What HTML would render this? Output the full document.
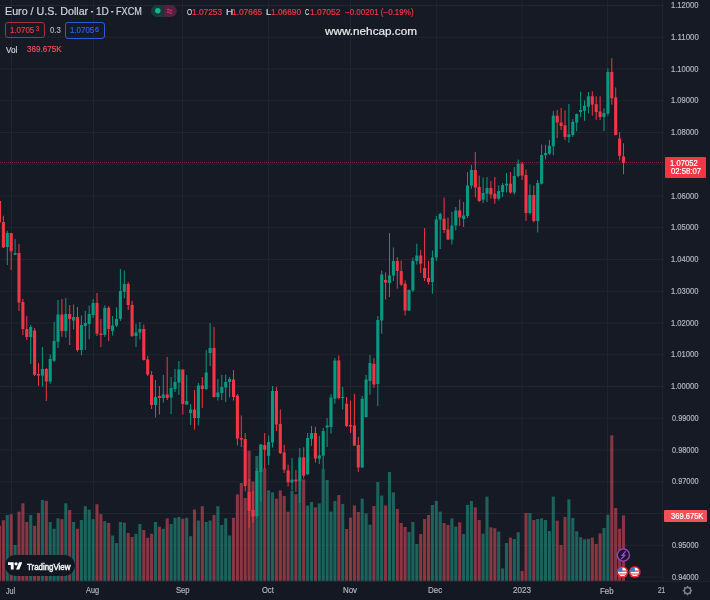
<!DOCTYPE html>
<html><head><meta charset="utf-8"><style>
*{margin:0;padding:0;box-sizing:border-box}
html,body{width:710px;height:600px;overflow:hidden;background:#161A25}
body{position:relative;font-family:"Liberation Sans",sans-serif;color:#d1d4dc}
svg.chart{position:absolute;left:0;top:0}
.abs{position:absolute;white-space:nowrap}
.t{position:absolute;white-space:pre;line-height:20px;transform-origin:0 0;-webkit-text-stroke:0.2px currentColor}
</style></head><body>
<svg class="chart" width="710" height="600" viewBox="0 0 710 600">
<rect x="11.00" y="0" width="1" height="581" fill="#222530"/>
<rect x="93.00" y="0" width="1" height="581" fill="#222530"/>
<rect x="182.10" y="0" width="1" height="581" fill="#222530"/>
<rect x="267.90" y="0" width="1" height="581" fill="#222530"/>
<rect x="350.00" y="0" width="1" height="581" fill="#222530"/>
<rect x="436.20" y="0" width="1" height="581" fill="#222530"/>
<rect x="521.40" y="0" width="1" height="581" fill="#222530"/>
<rect x="607.00" y="0" width="1" height="581" fill="#222530"/>
<rect x="662.20" y="0" width="1" height="581" fill="#222530"/>
<rect x="0" y="5.00" width="664" height="1" fill="#222530"/>
<rect x="0" y="36.75" width="664" height="1" fill="#222530"/>
<rect x="0" y="68.50" width="664" height="1" fill="#222530"/>
<rect x="0" y="100.25" width="664" height="1" fill="#222530"/>
<rect x="0" y="132.00" width="664" height="1" fill="#222530"/>
<rect x="0" y="163.75" width="664" height="1" fill="#222530"/>
<rect x="0" y="195.50" width="664" height="1" fill="#222530"/>
<rect x="0" y="227.25" width="664" height="1" fill="#222530"/>
<rect x="0" y="259.00" width="664" height="1" fill="#222530"/>
<rect x="0" y="290.75" width="664" height="1" fill="#222530"/>
<rect x="0" y="322.50" width="664" height="1" fill="#222530"/>
<rect x="0" y="354.25" width="664" height="1" fill="#222530"/>
<rect x="0" y="386.00" width="664" height="1" fill="#222530"/>
<rect x="0" y="417.75" width="664" height="1" fill="#222530"/>
<rect x="0" y="449.50" width="664" height="1" fill="#222530"/>
<rect x="0" y="481.25" width="664" height="1" fill="#222530"/>
<rect x="0" y="513.00" width="664" height="1" fill="#222530"/>
<rect x="0" y="544.75" width="664" height="1" fill="#222530"/>
<rect x="0" y="576.50" width="664" height="1" fill="#222530"/>
<rect x="-2.05" y="525.80" width="3.1" height="55.20" fill="rgba(247,82,95,0.5)"/>
<rect x="1.85" y="520.30" width="3.1" height="60.70" fill="rgba(247,82,95,0.5)"/>
<rect x="5.75" y="515.00" width="3.1" height="66.00" fill="rgba(34,171,148,0.5)"/>
<rect x="9.65" y="514.20" width="3.1" height="66.80" fill="rgba(247,82,95,0.5)"/>
<rect x="13.55" y="545.00" width="3.1" height="36.00" fill="rgba(34,171,148,0.5)"/>
<rect x="17.45" y="511.70" width="3.1" height="69.30" fill="rgba(247,82,95,0.5)"/>
<rect x="21.35" y="503.30" width="3.1" height="77.70" fill="rgba(247,82,95,0.5)"/>
<rect x="25.25" y="522.00" width="3.1" height="59.00" fill="rgba(247,82,95,0.5)"/>
<rect x="29.15" y="515.00" width="3.1" height="66.00" fill="rgba(34,171,148,0.5)"/>
<rect x="33.05" y="525.80" width="3.1" height="55.20" fill="rgba(247,82,95,0.5)"/>
<rect x="36.95" y="513.00" width="3.1" height="68.00" fill="rgba(247,82,95,0.5)"/>
<rect x="40.85" y="500.00" width="3.1" height="81.00" fill="rgba(34,171,148,0.5)"/>
<rect x="44.75" y="500.80" width="3.1" height="80.20" fill="rgba(247,82,95,0.5)"/>
<rect x="48.65" y="522.00" width="3.1" height="59.00" fill="rgba(34,171,148,0.5)"/>
<rect x="52.55" y="528.80" width="3.1" height="52.20" fill="rgba(34,171,148,0.5)"/>
<rect x="56.45" y="518.30" width="3.1" height="62.70" fill="rgba(34,171,148,0.5)"/>
<rect x="60.35" y="519.20" width="3.1" height="61.80" fill="rgba(247,82,95,0.5)"/>
<rect x="64.25" y="503.30" width="3.1" height="77.70" fill="rgba(34,171,148,0.5)"/>
<rect x="68.15" y="510.00" width="3.1" height="71.00" fill="rgba(247,82,95,0.5)"/>
<rect x="72.05" y="522.00" width="3.1" height="59.00" fill="rgba(34,171,148,0.5)"/>
<rect x="75.95" y="528.80" width="3.1" height="52.20" fill="rgba(247,82,95,0.5)"/>
<rect x="79.85" y="520.00" width="3.1" height="61.00" fill="rgba(34,171,148,0.5)"/>
<rect x="83.75" y="506.20" width="3.1" height="74.80" fill="rgba(34,171,148,0.5)"/>
<rect x="87.65" y="509.60" width="3.1" height="71.40" fill="rgba(34,171,148,0.5)"/>
<rect x="91.55" y="519.20" width="3.1" height="61.80" fill="rgba(34,171,148,0.5)"/>
<rect x="95.45" y="504.20" width="3.1" height="76.80" fill="rgba(247,82,95,0.5)"/>
<rect x="99.35" y="514.20" width="3.1" height="66.80" fill="rgba(247,82,95,0.5)"/>
<rect x="103.25" y="521.20" width="3.1" height="59.80" fill="rgba(34,171,148,0.5)"/>
<rect x="107.15" y="523.00" width="3.1" height="58.00" fill="rgba(247,82,95,0.5)"/>
<rect x="111.05" y="535.50" width="3.1" height="45.50" fill="rgba(34,171,148,0.5)"/>
<rect x="114.95" y="543.00" width="3.1" height="38.00" fill="rgba(34,171,148,0.5)"/>
<rect x="118.85" y="522.00" width="3.1" height="59.00" fill="rgba(34,171,148,0.5)"/>
<rect x="122.75" y="522.70" width="3.1" height="58.30" fill="rgba(34,171,148,0.5)"/>
<rect x="126.65" y="533.00" width="3.1" height="48.00" fill="rgba(247,82,95,0.5)"/>
<rect x="130.55" y="537.00" width="3.1" height="44.00" fill="rgba(247,82,95,0.5)"/>
<rect x="134.45" y="533.70" width="3.1" height="47.30" fill="rgba(34,171,148,0.5)"/>
<rect x="138.35" y="524.00" width="3.1" height="57.00" fill="rgba(34,171,148,0.5)"/>
<rect x="142.25" y="530.00" width="3.1" height="51.00" fill="rgba(247,82,95,0.5)"/>
<rect x="146.15" y="537.80" width="3.1" height="43.20" fill="rgba(247,82,95,0.5)"/>
<rect x="150.05" y="533.70" width="3.1" height="47.30" fill="rgba(247,82,95,0.5)"/>
<rect x="153.95" y="522.00" width="3.1" height="59.00" fill="rgba(34,171,148,0.5)"/>
<rect x="157.85" y="526.70" width="3.1" height="54.30" fill="rgba(247,82,95,0.5)"/>
<rect x="161.75" y="528.80" width="3.1" height="52.20" fill="rgba(34,171,148,0.5)"/>
<rect x="165.65" y="518.30" width="3.1" height="62.70" fill="rgba(247,82,95,0.5)"/>
<rect x="169.55" y="524.00" width="3.1" height="57.00" fill="rgba(34,171,148,0.5)"/>
<rect x="173.45" y="517.80" width="3.1" height="63.20" fill="rgba(34,171,148,0.5)"/>
<rect x="177.35" y="517.00" width="3.1" height="64.00" fill="rgba(34,171,148,0.5)"/>
<rect x="181.25" y="518.80" width="3.1" height="62.20" fill="rgba(247,82,95,0.5)"/>
<rect x="185.15" y="517.80" width="3.1" height="63.20" fill="rgba(34,171,148,0.5)"/>
<rect x="189.05" y="536.20" width="3.1" height="44.80" fill="rgba(34,171,148,0.5)"/>
<rect x="192.95" y="509.50" width="3.1" height="71.50" fill="rgba(247,82,95,0.5)"/>
<rect x="196.85" y="520.50" width="3.1" height="60.50" fill="rgba(34,171,148,0.5)"/>
<rect x="200.75" y="506.20" width="3.1" height="74.80" fill="rgba(247,82,95,0.5)"/>
<rect x="204.65" y="522.00" width="3.1" height="59.00" fill="rgba(34,171,148,0.5)"/>
<rect x="208.55" y="520.50" width="3.1" height="60.50" fill="rgba(34,171,148,0.5)"/>
<rect x="212.45" y="515.00" width="3.1" height="66.00" fill="rgba(247,82,95,0.5)"/>
<rect x="216.35" y="506.20" width="3.1" height="74.80" fill="rgba(34,171,148,0.5)"/>
<rect x="220.25" y="525.00" width="3.1" height="56.00" fill="rgba(34,171,148,0.5)"/>
<rect x="224.15" y="518.30" width="3.1" height="62.70" fill="rgba(34,171,148,0.5)"/>
<rect x="228.05" y="535.50" width="3.1" height="45.50" fill="rgba(34,171,148,0.5)"/>
<rect x="231.95" y="517.80" width="3.1" height="63.20" fill="rgba(247,82,95,0.5)"/>
<rect x="235.85" y="494.40" width="3.1" height="86.60" fill="rgba(247,82,95,0.5)"/>
<rect x="239.75" y="483.00" width="3.1" height="98.00" fill="rgba(247,82,95,0.5)"/>
<rect x="243.65" y="498.00" width="3.1" height="83.00" fill="rgba(247,82,95,0.5)"/>
<rect x="247.55" y="450.70" width="3.1" height="130.30" fill="rgba(247,82,95,0.5)"/>
<rect x="251.45" y="481.60" width="3.1" height="99.40" fill="rgba(247,82,95,0.5)"/>
<rect x="255.35" y="456.00" width="3.1" height="125.00" fill="rgba(34,171,148,0.5)"/>
<rect x="259.25" y="445.00" width="3.1" height="136.00" fill="rgba(34,171,148,0.5)"/>
<rect x="263.15" y="468.50" width="3.1" height="112.50" fill="rgba(247,82,95,0.5)"/>
<rect x="267.05" y="490.40" width="3.1" height="90.60" fill="rgba(34,171,148,0.5)"/>
<rect x="270.95" y="492.30" width="3.1" height="88.70" fill="rgba(34,171,148,0.5)"/>
<rect x="274.85" y="498.70" width="3.1" height="82.30" fill="rgba(247,82,95,0.5)"/>
<rect x="278.75" y="490.40" width="3.1" height="90.60" fill="rgba(247,82,95,0.5)"/>
<rect x="282.65" y="496.00" width="3.1" height="85.00" fill="rgba(247,82,95,0.5)"/>
<rect x="286.55" y="511.70" width="3.1" height="69.30" fill="rgba(247,82,95,0.5)"/>
<rect x="290.45" y="490.70" width="3.1" height="90.30" fill="rgba(34,171,148,0.5)"/>
<rect x="294.35" y="494.20" width="3.1" height="86.80" fill="rgba(247,82,95,0.5)"/>
<rect x="298.25" y="481.00" width="3.1" height="100.00" fill="rgba(34,171,148,0.5)"/>
<rect x="302.15" y="479.40" width="3.1" height="101.60" fill="rgba(247,82,95,0.5)"/>
<rect x="306.05" y="505.60" width="3.1" height="75.40" fill="rgba(34,171,148,0.5)"/>
<rect x="309.95" y="502.00" width="3.1" height="79.00" fill="rgba(34,171,148,0.5)"/>
<rect x="313.85" y="507.40" width="3.1" height="73.60" fill="rgba(247,82,95,0.5)"/>
<rect x="317.75" y="503.40" width="3.1" height="77.60" fill="rgba(34,171,148,0.5)"/>
<rect x="321.65" y="469.00" width="3.1" height="112.00" fill="rgba(34,171,148,0.5)"/>
<rect x="325.55" y="480.00" width="3.1" height="101.00" fill="rgba(34,171,148,0.5)"/>
<rect x="329.45" y="511.60" width="3.1" height="69.40" fill="rgba(34,171,148,0.5)"/>
<rect x="333.35" y="501.00" width="3.1" height="80.00" fill="rgba(34,171,148,0.5)"/>
<rect x="337.25" y="495.00" width="3.1" height="86.00" fill="rgba(247,82,95,0.5)"/>
<rect x="341.15" y="504.00" width="3.1" height="77.00" fill="rgba(34,171,148,0.5)"/>
<rect x="345.05" y="529.00" width="3.1" height="52.00" fill="rgba(247,82,95,0.5)"/>
<rect x="348.95" y="517.60" width="3.1" height="63.40" fill="rgba(247,82,95,0.5)"/>
<rect x="352.85" y="505.40" width="3.1" height="75.60" fill="rgba(247,82,95,0.5)"/>
<rect x="356.75" y="512.00" width="3.1" height="69.00" fill="rgba(247,82,95,0.5)"/>
<rect x="360.65" y="498.60" width="3.1" height="82.40" fill="rgba(34,171,148,0.5)"/>
<rect x="364.55" y="513.40" width="3.1" height="67.60" fill="rgba(34,171,148,0.5)"/>
<rect x="368.45" y="524.60" width="3.1" height="56.40" fill="rgba(34,171,148,0.5)"/>
<rect x="372.35" y="506.00" width="3.1" height="75.00" fill="rgba(247,82,95,0.5)"/>
<rect x="376.25" y="482.00" width="3.1" height="99.00" fill="rgba(34,171,148,0.5)"/>
<rect x="380.15" y="495.60" width="3.1" height="85.40" fill="rgba(34,171,148,0.5)"/>
<rect x="384.05" y="505.40" width="3.1" height="75.60" fill="rgba(247,82,95,0.5)"/>
<rect x="387.95" y="472.00" width="3.1" height="109.00" fill="rgba(34,171,148,0.5)"/>
<rect x="391.85" y="492.40" width="3.1" height="88.60" fill="rgba(34,171,148,0.5)"/>
<rect x="395.75" y="509.00" width="3.1" height="72.00" fill="rgba(247,82,95,0.5)"/>
<rect x="399.65" y="523.00" width="3.1" height="58.00" fill="rgba(247,82,95,0.5)"/>
<rect x="403.55" y="527.00" width="3.1" height="54.00" fill="rgba(247,82,95,0.5)"/>
<rect x="407.45" y="532.00" width="3.1" height="49.00" fill="rgba(34,171,148,0.5)"/>
<rect x="411.35" y="522.00" width="3.1" height="59.00" fill="rgba(34,171,148,0.5)"/>
<rect x="415.25" y="544.00" width="3.1" height="37.00" fill="rgba(34,171,148,0.5)"/>
<rect x="419.15" y="534.00" width="3.1" height="47.00" fill="rgba(247,82,95,0.5)"/>
<rect x="423.05" y="519.00" width="3.1" height="62.00" fill="rgba(247,82,95,0.5)"/>
<rect x="426.95" y="515.00" width="3.1" height="66.00" fill="rgba(247,82,95,0.5)"/>
<rect x="430.85" y="505.00" width="3.1" height="76.00" fill="rgba(34,171,148,0.5)"/>
<rect x="434.75" y="501.00" width="3.1" height="80.00" fill="rgba(34,171,148,0.5)"/>
<rect x="438.65" y="511.60" width="3.1" height="69.40" fill="rgba(34,171,148,0.5)"/>
<rect x="442.55" y="523.00" width="3.1" height="58.00" fill="rgba(247,82,95,0.5)"/>
<rect x="446.45" y="525.00" width="3.1" height="56.00" fill="rgba(247,82,95,0.5)"/>
<rect x="450.35" y="518.40" width="3.1" height="62.60" fill="rgba(34,171,148,0.5)"/>
<rect x="454.25" y="526.60" width="3.1" height="54.40" fill="rgba(34,171,148,0.5)"/>
<rect x="458.15" y="522.40" width="3.1" height="58.60" fill="rgba(247,82,95,0.5)"/>
<rect x="462.05" y="534.00" width="3.1" height="47.00" fill="rgba(34,171,148,0.5)"/>
<rect x="465.95" y="505.00" width="3.1" height="76.00" fill="rgba(34,171,148,0.5)"/>
<rect x="469.85" y="501.00" width="3.1" height="80.00" fill="rgba(34,171,148,0.5)"/>
<rect x="473.75" y="507.40" width="3.1" height="73.60" fill="rgba(247,82,95,0.5)"/>
<rect x="477.65" y="520.00" width="3.1" height="61.00" fill="rgba(247,82,95,0.5)"/>
<rect x="481.55" y="533.60" width="3.1" height="47.40" fill="rgba(34,171,148,0.5)"/>
<rect x="485.45" y="496.60" width="3.1" height="84.40" fill="rgba(34,171,148,0.5)"/>
<rect x="489.35" y="527.40" width="3.1" height="53.60" fill="rgba(247,82,95,0.5)"/>
<rect x="493.25" y="528.20" width="3.1" height="52.80" fill="rgba(247,82,95,0.5)"/>
<rect x="497.15" y="531.60" width="3.1" height="49.40" fill="rgba(34,171,148,0.5)"/>
<rect x="501.05" y="568.40" width="3.1" height="12.60" fill="rgba(34,171,148,0.5)"/>
<rect x="504.95" y="543.00" width="3.1" height="38.00" fill="rgba(34,171,148,0.5)"/>
<rect x="508.85" y="537.60" width="3.1" height="43.40" fill="rgba(247,82,95,0.5)"/>
<rect x="512.75" y="539.00" width="3.1" height="42.00" fill="rgba(34,171,148,0.5)"/>
<rect x="516.65" y="532.20" width="3.1" height="48.80" fill="rgba(34,171,148,0.5)"/>
<rect x="520.55" y="571.00" width="3.1" height="10.00" fill="rgba(247,82,95,0.5)"/>
<rect x="524.45" y="513.00" width="3.1" height="68.00" fill="rgba(247,82,95,0.5)"/>
<rect x="528.35" y="513.00" width="3.1" height="68.00" fill="rgba(34,171,148,0.5)"/>
<rect x="532.25" y="520.00" width="3.1" height="61.00" fill="rgba(247,82,95,0.5)"/>
<rect x="536.15" y="519.00" width="3.1" height="62.00" fill="rgba(34,171,148,0.5)"/>
<rect x="540.05" y="518.40" width="3.1" height="62.60" fill="rgba(34,171,148,0.5)"/>
<rect x="543.95" y="520.00" width="3.1" height="61.00" fill="rgba(34,171,148,0.5)"/>
<rect x="547.85" y="531.00" width="3.1" height="50.00" fill="rgba(34,171,148,0.5)"/>
<rect x="551.75" y="496.60" width="3.1" height="84.40" fill="rgba(34,171,148,0.5)"/>
<rect x="555.65" y="520.70" width="3.1" height="60.30" fill="rgba(247,82,95,0.5)"/>
<rect x="559.55" y="545.00" width="3.1" height="36.00" fill="rgba(247,82,95,0.5)"/>
<rect x="563.45" y="517.00" width="3.1" height="64.00" fill="rgba(247,82,95,0.5)"/>
<rect x="567.35" y="499.30" width="3.1" height="81.70" fill="rgba(34,171,148,0.5)"/>
<rect x="571.25" y="518.00" width="3.1" height="63.00" fill="rgba(34,171,148,0.5)"/>
<rect x="575.15" y="531.30" width="3.1" height="49.70" fill="rgba(34,171,148,0.5)"/>
<rect x="579.05" y="537.20" width="3.1" height="43.80" fill="rgba(34,171,148,0.5)"/>
<rect x="582.95" y="539.30" width="3.1" height="41.70" fill="rgba(34,171,148,0.5)"/>
<rect x="586.85" y="538.80" width="3.1" height="42.20" fill="rgba(34,171,148,0.5)"/>
<rect x="590.75" y="537.70" width="3.1" height="43.30" fill="rgba(247,82,95,0.5)"/>
<rect x="594.65" y="544.00" width="3.1" height="37.00" fill="rgba(247,82,95,0.5)"/>
<rect x="598.55" y="533.50" width="3.1" height="47.50" fill="rgba(247,82,95,0.5)"/>
<rect x="602.45" y="528.00" width="3.1" height="53.00" fill="rgba(34,171,148,0.5)"/>
<rect x="606.35" y="514.80" width="3.1" height="66.20" fill="rgba(34,171,148,0.5)"/>
<rect x="610.25" y="435.30" width="3.1" height="145.70" fill="rgba(247,82,95,0.5)"/>
<rect x="614.15" y="508.00" width="3.1" height="73.00" fill="rgba(247,82,95,0.5)"/>
<rect x="618.05" y="528.70" width="3.1" height="52.30" fill="rgba(247,82,95,0.5)"/>
<rect x="621.95" y="515.30" width="3.1" height="65.70" fill="rgba(247,82,95,0.5)"/>
<line x1="0" y1="162.5" x2="664" y2="162.5" stroke="#F23645" stroke-opacity="0.42" stroke-width="1" stroke-dasharray="1 1"/>
<rect x="-1.00" y="199.00" width="1" height="25.00" fill="#F23645"/>
<rect x="-2.05" y="201.00" width="3.1" height="21.40" fill="#F23645"/>
<rect x="2.90" y="215.70" width="1" height="32.30" fill="#F23645"/>
<rect x="1.85" y="222.00" width="3.1" height="25.40" fill="#F23645"/>
<rect x="6.80" y="230.80" width="1" height="34.20" fill="#089981"/>
<rect x="5.75" y="233.00" width="3.1" height="14.00" fill="#089981"/>
<rect x="10.70" y="233.00" width="1" height="37.00" fill="#F23645"/>
<rect x="9.65" y="233.00" width="3.1" height="18.30" fill="#F23645"/>
<rect x="14.60" y="239.00" width="1" height="16.00" fill="#089981"/>
<rect x="13.55" y="253.00" width="3.1" height="1.80" fill="#089981"/>
<rect x="18.50" y="244.00" width="1" height="67.00" fill="#F23645"/>
<rect x="17.45" y="253.00" width="3.1" height="49.50" fill="#F23645"/>
<rect x="22.40" y="299.00" width="1" height="36.00" fill="#F23645"/>
<rect x="21.35" y="302.00" width="3.1" height="27.00" fill="#F23645"/>
<rect x="26.30" y="316.00" width="1" height="24.00" fill="#F23645"/>
<rect x="25.25" y="329.00" width="3.1" height="8.00" fill="#F23645"/>
<rect x="30.20" y="325.00" width="1" height="39.00" fill="#089981"/>
<rect x="29.15" y="327.00" width="3.1" height="10.00" fill="#089981"/>
<rect x="34.10" y="328.00" width="1" height="48.00" fill="#F23645"/>
<rect x="33.05" y="330.50" width="3.1" height="44.30" fill="#F23645"/>
<rect x="38.00" y="363.00" width="1" height="22.70" fill="#F23645"/>
<rect x="36.95" y="374.00" width="3.1" height="1.60" fill="#F23645"/>
<rect x="41.90" y="347.00" width="1" height="39.60" fill="#089981"/>
<rect x="40.85" y="369.00" width="3.1" height="6.60" fill="#089981"/>
<rect x="45.80" y="368.00" width="1" height="33.00" fill="#F23645"/>
<rect x="44.75" y="369.00" width="3.1" height="12.50" fill="#F23645"/>
<rect x="49.70" y="354.50" width="1" height="29.20" fill="#089981"/>
<rect x="48.65" y="359.00" width="3.1" height="22.50" fill="#089981"/>
<rect x="53.60" y="322.00" width="1" height="40.00" fill="#089981"/>
<rect x="52.55" y="341.00" width="3.1" height="19.70" fill="#089981"/>
<rect x="57.50" y="300.00" width="1" height="48.00" fill="#089981"/>
<rect x="56.45" y="314.50" width="3.1" height="27.30" fill="#089981"/>
<rect x="61.40" y="299.00" width="1" height="37.80" fill="#F23645"/>
<rect x="60.35" y="314.50" width="3.1" height="16.50" fill="#F23645"/>
<rect x="65.30" y="298.00" width="1" height="39.60" fill="#089981"/>
<rect x="64.25" y="314.00" width="3.1" height="17.00" fill="#089981"/>
<rect x="69.20" y="305.00" width="1" height="40.00" fill="#F23645"/>
<rect x="68.15" y="314.00" width="3.1" height="5.00" fill="#F23645"/>
<rect x="73.10" y="304.50" width="1" height="25.00" fill="#089981"/>
<rect x="72.05" y="317.00" width="3.1" height="3.50" fill="#089981"/>
<rect x="77.00" y="307.00" width="1" height="44.60" fill="#F23645"/>
<rect x="75.95" y="317.00" width="3.1" height="33.00" fill="#F23645"/>
<rect x="80.90" y="315.50" width="1" height="39.80" fill="#089981"/>
<rect x="79.85" y="325.00" width="3.1" height="25.00" fill="#089981"/>
<rect x="84.80" y="311.00" width="1" height="39.00" fill="#089981"/>
<rect x="83.75" y="323.00" width="3.1" height="3.00" fill="#089981"/>
<rect x="88.70" y="305.50" width="1" height="33.80" fill="#089981"/>
<rect x="87.65" y="314.00" width="3.1" height="10.00" fill="#089981"/>
<rect x="92.60" y="299.00" width="1" height="19.00" fill="#089981"/>
<rect x="91.55" y="303.00" width="3.1" height="12.00" fill="#089981"/>
<rect x="96.50" y="293.00" width="1" height="43.00" fill="#F23645"/>
<rect x="95.45" y="303.00" width="3.1" height="30.70" fill="#F23645"/>
<rect x="100.40" y="319.00" width="1" height="28.00" fill="#F23645"/>
<rect x="99.35" y="333.50" width="3.1" height="1.50" fill="#F23645"/>
<rect x="104.30" y="305.40" width="1" height="31.40" fill="#089981"/>
<rect x="103.25" y="307.80" width="3.1" height="26.90" fill="#089981"/>
<rect x="108.20" y="306.00" width="1" height="35.00" fill="#F23645"/>
<rect x="107.15" y="307.80" width="3.1" height="21.20" fill="#F23645"/>
<rect x="112.10" y="316.00" width="1" height="19.50" fill="#089981"/>
<rect x="111.05" y="325.50" width="3.1" height="5.50" fill="#089981"/>
<rect x="116.00" y="307.40" width="1" height="19.60" fill="#089981"/>
<rect x="114.95" y="319.00" width="3.1" height="6.50" fill="#089981"/>
<rect x="119.90" y="268.90" width="1" height="52.10" fill="#089981"/>
<rect x="118.85" y="291.00" width="3.1" height="27.80" fill="#089981"/>
<rect x="123.80" y="270.40" width="1" height="28.00" fill="#089981"/>
<rect x="122.75" y="284.00" width="3.1" height="7.80" fill="#089981"/>
<rect x="127.70" y="282.00" width="1" height="28.00" fill="#F23645"/>
<rect x="126.65" y="284.00" width="3.1" height="21.00" fill="#F23645"/>
<rect x="131.60" y="300.80" width="1" height="36.20" fill="#F23645"/>
<rect x="130.55" y="305.00" width="3.1" height="31.00" fill="#F23645"/>
<rect x="135.50" y="324.00" width="1" height="23.00" fill="#089981"/>
<rect x="134.45" y="332.50" width="3.1" height="3.50" fill="#089981"/>
<rect x="139.40" y="322.00" width="1" height="17.50" fill="#089981"/>
<rect x="138.35" y="329.00" width="3.1" height="3.50" fill="#089981"/>
<rect x="143.30" y="324.50" width="1" height="36.00" fill="#F23645"/>
<rect x="142.25" y="329.00" width="3.1" height="31.00" fill="#F23645"/>
<rect x="147.20" y="356.00" width="1" height="20.00" fill="#F23645"/>
<rect x="146.15" y="359.50" width="3.1" height="15.00" fill="#F23645"/>
<rect x="151.10" y="371.00" width="1" height="38.00" fill="#F23645"/>
<rect x="150.05" y="375.00" width="3.1" height="30.00" fill="#F23645"/>
<rect x="155.00" y="380.00" width="1" height="37.50" fill="#089981"/>
<rect x="153.95" y="397.00" width="3.1" height="8.00" fill="#089981"/>
<rect x="158.90" y="386.00" width="1" height="28.50" fill="#F23645"/>
<rect x="157.85" y="396.00" width="3.1" height="2.00" fill="#F23645"/>
<rect x="162.80" y="375.00" width="1" height="27.50" fill="#089981"/>
<rect x="161.75" y="394.50" width="3.1" height="3.50" fill="#089981"/>
<rect x="166.70" y="357.00" width="1" height="43.00" fill="#F23645"/>
<rect x="165.65" y="394.50" width="3.1" height="3.50" fill="#F23645"/>
<rect x="170.60" y="377.00" width="1" height="37.00" fill="#089981"/>
<rect x="169.55" y="388.00" width="3.1" height="9.50" fill="#089981"/>
<rect x="174.50" y="369.00" width="1" height="23.00" fill="#089981"/>
<rect x="173.45" y="382.00" width="3.1" height="7.00" fill="#089981"/>
<rect x="178.40" y="361.00" width="1" height="34.00" fill="#089981"/>
<rect x="177.35" y="369.50" width="3.1" height="13.00" fill="#089981"/>
<rect x="182.30" y="369.50" width="1" height="45.00" fill="#F23645"/>
<rect x="181.25" y="369.50" width="3.1" height="34.50" fill="#F23645"/>
<rect x="186.20" y="375.00" width="1" height="30.00" fill="#089981"/>
<rect x="185.15" y="401.00" width="3.1" height="3.50" fill="#089981"/>
<rect x="190.10" y="404.00" width="1" height="21.00" fill="#089981"/>
<rect x="189.05" y="409.50" width="3.1" height="3.50" fill="#089981"/>
<rect x="194.00" y="390.00" width="1" height="39.50" fill="#F23645"/>
<rect x="192.95" y="409.50" width="3.1" height="8.50" fill="#F23645"/>
<rect x="197.90" y="383.00" width="1" height="42.50" fill="#089981"/>
<rect x="196.85" y="385.50" width="3.1" height="32.50" fill="#089981"/>
<rect x="201.80" y="377.00" width="1" height="31.00" fill="#F23645"/>
<rect x="200.75" y="385.50" width="3.1" height="3.50" fill="#F23645"/>
<rect x="205.70" y="350.00" width="1" height="40.00" fill="#089981"/>
<rect x="204.65" y="372.50" width="3.1" height="16.50" fill="#089981"/>
<rect x="209.60" y="323.00" width="1" height="43.00" fill="#089981"/>
<rect x="208.55" y="348.00" width="3.1" height="5.00" fill="#089981"/>
<rect x="213.50" y="327.00" width="1" height="70.50" fill="#F23645"/>
<rect x="212.45" y="348.00" width="3.1" height="49.00" fill="#F23645"/>
<rect x="217.40" y="379.00" width="1" height="21.50" fill="#089981"/>
<rect x="216.35" y="392.50" width="3.1" height="4.50" fill="#089981"/>
<rect x="221.30" y="375.00" width="1" height="25.00" fill="#089981"/>
<rect x="220.25" y="387.00" width="3.1" height="6.00" fill="#089981"/>
<rect x="225.20" y="374.50" width="1" height="27.50" fill="#089981"/>
<rect x="224.15" y="382.00" width="3.1" height="5.50" fill="#089981"/>
<rect x="229.10" y="377.00" width="1" height="20.50" fill="#089981"/>
<rect x="228.05" y="379.00" width="3.1" height="3.00" fill="#089981"/>
<rect x="233.00" y="370.00" width="1" height="30.50" fill="#F23645"/>
<rect x="231.95" y="379.50" width="3.1" height="17.50" fill="#F23645"/>
<rect x="236.90" y="394.00" width="1" height="51.50" fill="#F23645"/>
<rect x="235.85" y="395.50" width="3.1" height="43.00" fill="#F23645"/>
<rect x="240.80" y="415.50" width="1" height="31.50" fill="#F23645"/>
<rect x="239.75" y="438.00" width="3.1" height="1.60" fill="#F23645"/>
<rect x="244.70" y="433.00" width="1" height="58.50" fill="#F23645"/>
<rect x="243.65" y="439.00" width="3.1" height="47.00" fill="#F23645"/>
<rect x="248.60" y="479.00" width="1" height="48.70" fill="#F23645"/>
<rect x="247.55" y="492.00" width="3.1" height="18.80" fill="#F23645"/>
<rect x="252.50" y="491.00" width="1" height="32.00" fill="#F23645"/>
<rect x="251.45" y="510.00" width="3.1" height="6.60" fill="#F23645"/>
<rect x="256.40" y="468.00" width="1" height="50.00" fill="#089981"/>
<rect x="255.35" y="471.00" width="3.1" height="45.00" fill="#089981"/>
<rect x="260.30" y="444.00" width="1" height="57.40" fill="#089981"/>
<rect x="259.25" y="444.50" width="3.1" height="27.50" fill="#089981"/>
<rect x="264.20" y="433.00" width="1" height="36.00" fill="#F23645"/>
<rect x="263.15" y="445.00" width="3.1" height="4.80" fill="#F23645"/>
<rect x="268.10" y="435.50" width="1" height="29.50" fill="#089981"/>
<rect x="267.05" y="442.00" width="3.1" height="13.80" fill="#089981"/>
<rect x="272.00" y="386.00" width="1" height="61.50" fill="#089981"/>
<rect x="270.95" y="391.00" width="3.1" height="51.50" fill="#089981"/>
<rect x="275.90" y="387.00" width="1" height="44.00" fill="#F23645"/>
<rect x="274.85" y="391.00" width="3.1" height="33.50" fill="#F23645"/>
<rect x="279.80" y="409.40" width="1" height="44.60" fill="#F23645"/>
<rect x="278.75" y="424.00" width="3.1" height="29.00" fill="#F23645"/>
<rect x="283.70" y="444.80" width="1" height="28.20" fill="#F23645"/>
<rect x="282.65" y="452.50" width="3.1" height="17.30" fill="#F23645"/>
<rect x="287.60" y="464.60" width="1" height="21.90" fill="#F23645"/>
<rect x="286.55" y="470.40" width="3.1" height="11.90" fill="#F23645"/>
<rect x="291.50" y="458.00" width="1" height="32.00" fill="#089981"/>
<rect x="290.45" y="479.60" width="3.1" height="2.90" fill="#089981"/>
<rect x="295.40" y="470.00" width="1" height="21.80" fill="#F23645"/>
<rect x="294.35" y="479.60" width="3.1" height="1.70" fill="#F23645"/>
<rect x="299.30" y="448.00" width="1" height="55.00" fill="#089981"/>
<rect x="298.25" y="457.40" width="3.1" height="23.90" fill="#089981"/>
<rect x="303.20" y="447.30" width="1" height="31.10" fill="#F23645"/>
<rect x="302.15" y="457.40" width="3.1" height="18.30" fill="#F23645"/>
<rect x="307.10" y="433.00" width="1" height="42.00" fill="#089981"/>
<rect x="306.05" y="438.00" width="3.1" height="36.30" fill="#089981"/>
<rect x="311.00" y="426.00" width="1" height="19.80" fill="#089981"/>
<rect x="309.95" y="433.00" width="3.1" height="5.80" fill="#089981"/>
<rect x="314.90" y="426.70" width="1" height="36.00" fill="#F23645"/>
<rect x="313.85" y="433.00" width="3.1" height="25.60" fill="#F23645"/>
<rect x="318.80" y="435.80" width="1" height="28.20" fill="#089981"/>
<rect x="317.75" y="455.40" width="3.1" height="3.20" fill="#089981"/>
<rect x="322.70" y="428.00" width="1" height="41.00" fill="#089981"/>
<rect x="321.65" y="431.00" width="3.1" height="24.70" fill="#089981"/>
<rect x="326.60" y="418.00" width="1" height="29.00" fill="#089981"/>
<rect x="325.55" y="425.50" width="3.1" height="2.00" fill="#089981"/>
<rect x="330.50" y="394.00" width="1" height="39.70" fill="#089981"/>
<rect x="329.45" y="397.50" width="3.1" height="29.50" fill="#089981"/>
<rect x="334.40" y="358.00" width="1" height="45.70" fill="#089981"/>
<rect x="333.35" y="360.50" width="3.1" height="38.30" fill="#089981"/>
<rect x="338.30" y="355.50" width="1" height="44.00" fill="#F23645"/>
<rect x="337.25" y="360.50" width="3.1" height="37.50" fill="#F23645"/>
<rect x="342.20" y="387.00" width="1" height="22.50" fill="#089981"/>
<rect x="341.15" y="397.00" width="3.1" height="1.00" fill="#089981"/>
<rect x="346.10" y="397.00" width="1" height="30.00" fill="#F23645"/>
<rect x="345.05" y="403.70" width="3.1" height="22.30" fill="#F23645"/>
<rect x="350.00" y="400.50" width="1" height="32.50" fill="#F23645"/>
<rect x="348.95" y="425.00" width="3.1" height="1.50" fill="#F23645"/>
<rect x="353.90" y="394.00" width="1" height="52.00" fill="#F23645"/>
<rect x="352.85" y="425.50" width="3.1" height="20.00" fill="#F23645"/>
<rect x="357.80" y="437.00" width="1" height="35.00" fill="#F23645"/>
<rect x="356.75" y="445.00" width="3.1" height="22.50" fill="#F23645"/>
<rect x="361.70" y="396.00" width="1" height="72.00" fill="#089981"/>
<rect x="360.65" y="398.80" width="3.1" height="68.70" fill="#089981"/>
<rect x="365.60" y="375.00" width="1" height="42.50" fill="#089981"/>
<rect x="364.55" y="379.50" width="3.1" height="37.50" fill="#089981"/>
<rect x="369.50" y="355.00" width="1" height="39.50" fill="#089981"/>
<rect x="368.45" y="363.00" width="3.1" height="18.00" fill="#089981"/>
<rect x="373.40" y="358.00" width="1" height="30.00" fill="#F23645"/>
<rect x="372.35" y="363.80" width="3.1" height="20.70" fill="#F23645"/>
<rect x="377.30" y="316.00" width="1" height="90.00" fill="#089981"/>
<rect x="376.25" y="320.00" width="3.1" height="64.00" fill="#089981"/>
<rect x="381.20" y="270.50" width="1" height="63.20" fill="#089981"/>
<rect x="380.15" y="274.50" width="3.1" height="46.00" fill="#089981"/>
<rect x="385.10" y="272.50" width="1" height="27.00" fill="#F23645"/>
<rect x="384.05" y="280.00" width="3.1" height="2.50" fill="#F23645"/>
<rect x="389.00" y="233.00" width="1" height="64.00" fill="#089981"/>
<rect x="387.95" y="275.50" width="3.1" height="7.50" fill="#089981"/>
<rect x="392.90" y="247.50" width="1" height="33.50" fill="#089981"/>
<rect x="391.85" y="261.00" width="3.1" height="14.50" fill="#089981"/>
<rect x="396.80" y="257.00" width="1" height="31.70" fill="#F23645"/>
<rect x="395.75" y="261.00" width="3.1" height="10.00" fill="#F23645"/>
<rect x="400.70" y="260.50" width="1" height="25.50" fill="#F23645"/>
<rect x="399.65" y="271.00" width="3.1" height="13.50" fill="#F23645"/>
<rect x="404.60" y="280.50" width="1" height="35.00" fill="#F23645"/>
<rect x="403.55" y="283.70" width="3.1" height="26.80" fill="#F23645"/>
<rect x="408.50" y="289.50" width="1" height="21.50" fill="#089981"/>
<rect x="407.45" y="290.00" width="3.1" height="20.50" fill="#089981"/>
<rect x="412.40" y="257.50" width="1" height="34.50" fill="#089981"/>
<rect x="411.35" y="261.00" width="3.1" height="29.50" fill="#089981"/>
<rect x="416.30" y="243.70" width="1" height="20.80" fill="#089981"/>
<rect x="415.25" y="255.50" width="3.1" height="5.50" fill="#089981"/>
<rect x="420.20" y="250.00" width="1" height="23.00" fill="#F23645"/>
<rect x="419.15" y="255.50" width="3.1" height="8.20" fill="#F23645"/>
<rect x="424.10" y="228.00" width="1" height="53.00" fill="#F23645"/>
<rect x="423.05" y="268.00" width="3.1" height="10.00" fill="#F23645"/>
<rect x="428.00" y="261.00" width="1" height="23.50" fill="#F23645"/>
<rect x="426.95" y="278.00" width="3.1" height="4.00" fill="#F23645"/>
<rect x="431.90" y="250.50" width="1" height="43.20" fill="#089981"/>
<rect x="430.85" y="257.50" width="3.1" height="24.50" fill="#089981"/>
<rect x="435.80" y="216.00" width="1" height="45.00" fill="#089981"/>
<rect x="434.75" y="219.50" width="3.1" height="38.00" fill="#089981"/>
<rect x="439.70" y="212.50" width="1" height="36.50" fill="#089981"/>
<rect x="438.65" y="214.00" width="3.1" height="5.50" fill="#089981"/>
<rect x="443.60" y="197.50" width="1" height="35.50" fill="#F23645"/>
<rect x="442.55" y="218.80" width="3.1" height="11.20" fill="#F23645"/>
<rect x="447.50" y="217.50" width="1" height="22.50" fill="#F23645"/>
<rect x="446.45" y="229.50" width="3.1" height="10.00" fill="#F23645"/>
<rect x="451.40" y="212.00" width="1" height="32.50" fill="#089981"/>
<rect x="450.35" y="225.50" width="3.1" height="14.00" fill="#089981"/>
<rect x="455.30" y="207.00" width="1" height="23.50" fill="#089981"/>
<rect x="454.25" y="210.50" width="3.1" height="15.00" fill="#089981"/>
<rect x="459.20" y="199.50" width="1" height="26.50" fill="#F23645"/>
<rect x="458.15" y="210.50" width="3.1" height="7.00" fill="#F23645"/>
<rect x="463.10" y="202.00" width="1" height="25.00" fill="#089981"/>
<rect x="462.05" y="215.50" width="3.1" height="3.50" fill="#089981"/>
<rect x="467.00" y="172.00" width="1" height="46.00" fill="#089981"/>
<rect x="465.95" y="185.50" width="3.1" height="30.50" fill="#089981"/>
<rect x="470.90" y="165.00" width="1" height="23.70" fill="#089981"/>
<rect x="469.85" y="170.00" width="3.1" height="15.50" fill="#089981"/>
<rect x="474.80" y="152.00" width="1" height="45.50" fill="#F23645"/>
<rect x="473.75" y="170.00" width="3.1" height="17.50" fill="#F23645"/>
<rect x="478.70" y="175.50" width="1" height="26.50" fill="#F23645"/>
<rect x="477.65" y="187.00" width="3.1" height="14.00" fill="#F23645"/>
<rect x="482.60" y="177.50" width="1" height="25.50" fill="#089981"/>
<rect x="481.55" y="193.00" width="3.1" height="6.50" fill="#089981"/>
<rect x="486.50" y="177.00" width="1" height="25.00" fill="#089981"/>
<rect x="485.45" y="188.00" width="3.1" height="5.70" fill="#089981"/>
<rect x="490.40" y="181.00" width="1" height="17.70" fill="#F23645"/>
<rect x="489.35" y="188.00" width="3.1" height="6.50" fill="#F23645"/>
<rect x="494.30" y="177.00" width="1" height="26.70" fill="#F23645"/>
<rect x="493.25" y="193.70" width="3.1" height="5.00" fill="#F23645"/>
<rect x="498.20" y="185.50" width="1" height="15.00" fill="#089981"/>
<rect x="497.15" y="191.00" width="3.1" height="7.70" fill="#089981"/>
<rect x="502.10" y="183.00" width="1" height="14.00" fill="#089981"/>
<rect x="501.05" y="185.00" width="3.1" height="7.00" fill="#089981"/>
<rect x="506.00" y="173.00" width="1" height="19.50" fill="#089981"/>
<rect x="504.95" y="183.70" width="3.1" height="1.80" fill="#089981"/>
<rect x="509.90" y="172.00" width="1" height="21.70" fill="#F23645"/>
<rect x="508.85" y="183.70" width="3.1" height="8.80" fill="#F23645"/>
<rect x="513.80" y="167.00" width="1" height="27.50" fill="#089981"/>
<rect x="512.75" y="176.00" width="3.1" height="16.50" fill="#089981"/>
<rect x="517.70" y="159.50" width="1" height="18.00" fill="#089981"/>
<rect x="516.65" y="163.70" width="3.1" height="12.30" fill="#089981"/>
<rect x="521.60" y="162.00" width="1" height="18.00" fill="#F23645"/>
<rect x="520.55" y="163.70" width="3.1" height="11.80" fill="#F23645"/>
<rect x="525.50" y="169.50" width="1" height="51.50" fill="#F23645"/>
<rect x="524.45" y="175.00" width="3.1" height="38.00" fill="#F23645"/>
<rect x="529.40" y="184.50" width="1" height="30.00" fill="#089981"/>
<rect x="528.35" y="195.00" width="3.1" height="18.00" fill="#089981"/>
<rect x="533.30" y="185.50" width="1" height="37.00" fill="#F23645"/>
<rect x="532.25" y="195.00" width="3.1" height="26.00" fill="#F23645"/>
<rect x="537.20" y="180.00" width="1" height="52.50" fill="#089981"/>
<rect x="536.15" y="183.00" width="3.1" height="38.00" fill="#089981"/>
<rect x="541.10" y="144.50" width="1" height="40.00" fill="#089981"/>
<rect x="540.05" y="155.00" width="3.1" height="28.70" fill="#089981"/>
<rect x="545.00" y="144.80" width="1" height="14.60" fill="#089981"/>
<rect x="543.95" y="153.00" width="3.1" height="2.20" fill="#089981"/>
<rect x="548.90" y="140.00" width="1" height="15.00" fill="#089981"/>
<rect x="547.85" y="145.80" width="3.1" height="7.95" fill="#089981"/>
<rect x="552.80" y="110.80" width="1" height="44.40" fill="#089981"/>
<rect x="551.75" y="115.60" width="3.1" height="30.65" fill="#089981"/>
<rect x="556.70" y="110.00" width="1" height="28.00" fill="#F23645"/>
<rect x="555.65" y="115.60" width="3.1" height="6.90" fill="#F23645"/>
<rect x="560.60" y="108.00" width="1" height="22.20" fill="#F23645"/>
<rect x="559.55" y="122.50" width="3.1" height="3.50" fill="#F23645"/>
<rect x="564.50" y="110.40" width="1" height="29.60" fill="#F23645"/>
<rect x="563.45" y="125.40" width="3.1" height="11.60" fill="#F23645"/>
<rect x="568.40" y="104.00" width="1" height="38.70" fill="#089981"/>
<rect x="567.35" y="134.40" width="3.1" height="2.60" fill="#089981"/>
<rect x="572.30" y="119.00" width="1" height="18.00" fill="#089981"/>
<rect x="571.25" y="121.90" width="3.1" height="13.10" fill="#089981"/>
<rect x="576.20" y="113.50" width="1" height="17.75" fill="#089981"/>
<rect x="575.15" y="114.00" width="3.1" height="8.50" fill="#089981"/>
<rect x="580.10" y="91.70" width="1" height="25.30" fill="#089981"/>
<rect x="579.05" y="110.00" width="3.1" height="2.00" fill="#089981"/>
<rect x="584.00" y="100.40" width="1" height="20.40" fill="#089981"/>
<rect x="582.95" y="105.80" width="3.1" height="5.00" fill="#089981"/>
<rect x="587.90" y="92.00" width="1" height="21.50" fill="#089981"/>
<rect x="586.85" y="96.25" width="3.1" height="10.45" fill="#089981"/>
<rect x="591.80" y="91.25" width="1" height="24.35" fill="#F23645"/>
<rect x="590.75" y="96.25" width="3.1" height="8.35" fill="#F23645"/>
<rect x="595.70" y="96.25" width="1" height="23.55" fill="#F23645"/>
<rect x="594.65" y="104.20" width="3.1" height="7.80" fill="#F23645"/>
<rect x="599.60" y="96.25" width="1" height="23.55" fill="#F23645"/>
<rect x="598.55" y="111.50" width="3.1" height="5.50" fill="#F23645"/>
<rect x="603.50" y="108.30" width="1" height="22.95" fill="#089981"/>
<rect x="602.45" y="113.00" width="3.1" height="4.00" fill="#089981"/>
<rect x="607.40" y="68.30" width="1" height="47.30" fill="#089981"/>
<rect x="606.35" y="71.90" width="3.1" height="41.60" fill="#089981"/>
<rect x="611.30" y="58.30" width="1" height="46.30" fill="#F23645"/>
<rect x="610.25" y="71.90" width="3.1" height="26.40" fill="#F23645"/>
<rect x="615.20" y="87.50" width="1" height="47.90" fill="#F23645"/>
<rect x="614.15" y="97.50" width="3.1" height="37.50" fill="#F23645"/>
<rect x="619.10" y="132.30" width="1" height="28.10" fill="#F23645"/>
<rect x="618.05" y="138.50" width="3.1" height="17.30" fill="#F23645"/>
<rect x="623.00" y="143.30" width="1" height="31.00" fill="#F23645"/>
<rect x="621.95" y="156.40" width="3.1" height="6.35" fill="#F23645"/>
<rect x="0" y="582" width="710" height="18" fill="#141822"/>
<rect x="0" y="580.8" width="710" height="1.2" fill="#20232e"/>
</svg>
<svg class="abs" style="left:150px;top:4px" width="28" height="14" viewBox="150 4 28 14">
<path d="M157 4.9 h6.6 v12 h-6.6 a6 6 0 0 1 0 -12z" fill="#1a3b3b"/>
<path d="M163.6 4.9 h7.2 a6 6 0 0 1 0 12 h-7.2z" fill="#52223f"/>
<circle cx="157.8" cy="10.8" r="2.7" fill="#12b886"/>
<path d="M166.9 10 q1.3 -1.3 2.6 0 t2.6 0 M166.9 12.6 q1.3 -1.3 2.6 0 t2.6 0" fill="none" stroke="#e0206e" stroke-width="1.1"/>
</svg>
<div class="abs" style="left:5.3px;top:22.2px;width:39.4px;height:16.3px;border:1px solid #a8303b;border-radius:3px"></div>
<div class="abs" style="left:64.9px;top:22.1px;width:40.2px;height:16.6px;border:1px solid #2b5bd8;border-radius:3px"></div>
<div class="abs" style="left:664.5px;top:156.8px;width:41px;height:21.1px;background:#f23645;border-radius:1px"></div>
<div class="abs" style="left:664.3px;top:510px;width:42.8px;height:11.9px;background:#f05056;border-radius:1px"></div>
<svg class="abs" style="left:614px;top:546px" width="28" height="34" viewBox="614 546 28 34">
<circle cx="623.4" cy="555" r="6.1" fill="#161A25" stroke="#9b3fc0" stroke-width="1.4"/>
<path d="M625.6 551.4 L621.9 555.5 L625 555.2 L621.4 558.7" fill="none" stroke="#a548cc" stroke-width="1.2" stroke-linejoin="round" stroke-linecap="round"/>
<g>
<circle cx="622.4" cy="571.9" r="5.2" fill="#fff" stroke="#c81e2c" stroke-width="1.6"/>
<path d="M617.6 570.6 h9.6 v1.2 h-9.6z M617.6 573.4 h9.6 v1.2 h-9.6z M618.5 575.9 h7.8 v1 h-7.8z" fill="#e8343f"/>
<path d="M622.4 567.1 a4.8 4.8 0 0 0 -4.8 4.3 h4.8z" fill="#3478e0"/>
</g>
<g>
<circle cx="634.8" cy="571.9" r="5.2" fill="#fff" stroke="#c81e2c" stroke-width="1.6"/>
<path d="M630 570.6 h9.6 v1.2 h-9.6z M630 573.4 h9.6 v1.2 h-9.6z M630.9 575.9 h7.8 v1 h-7.8z" fill="#e8343f"/>
<path d="M634.8 567.1 a4.8 4.8 0 0 0 -4.8 4.3 h4.8z" fill="#3478e0"/>
</g>
</svg>
<div class="abs" style="left:4.5px;top:555px;width:70px;height:20.8px;background:#131722;border-radius:10.4px"></div>
<svg class="abs" style="left:7.9px;top:562.3px" width="14.5" height="7.6" viewBox="0 4 36 18"><path d="M14 22H7V11H0V4h14v18zM28 22h-8l7.5-18h8L28 22z" fill="#fff"/><circle cx="20" cy="8" r="4" fill="#fff"/></svg>
<svg class="abs" style="left:680px;top:583px" width="15" height="15" viewBox="680 583 15 15"><polygon points="687.50,585.50 688.92,587.18 691.11,586.99 690.92,589.18 692.60,590.60 690.92,592.02 691.11,594.21 688.92,594.02 687.50,595.70 686.08,594.02 683.89,594.21 684.08,592.02 682.40,590.60 684.08,589.18 683.89,586.99 686.08,587.18" fill="#7a7d87"/><circle cx="687.5" cy="590.6" r="2.4" fill="#141822"/></svg>
<div class="t" style="left:670.62px;top:-5.00px;font-size:8.6px;color:#b2b5be;transform:scaleX(0.883);">1.12000</div>
<div class="t" style="left:670.59px;top:26.75px;font-size:8.6px;color:#b2b5be;transform:scaleX(0.914);">1.11000</div>
<div class="t" style="left:670.62px;top:58.50px;font-size:8.6px;color:#b2b5be;transform:scaleX(0.883);">1.10000</div>
<div class="t" style="left:670.62px;top:90.25px;font-size:8.6px;color:#b2b5be;transform:scaleX(0.883);">1.09000</div>
<div class="t" style="left:670.62px;top:122.00px;font-size:8.6px;color:#b2b5be;transform:scaleX(0.883);">1.08000</div>
<div class="t" style="left:670.62px;top:185.50px;font-size:8.6px;color:#b2b5be;transform:scaleX(0.883);">1.06000</div>
<div class="t" style="left:670.62px;top:217.25px;font-size:8.6px;color:#b2b5be;transform:scaleX(0.883);">1.05000</div>
<div class="t" style="left:670.62px;top:249.00px;font-size:8.6px;color:#b2b5be;transform:scaleX(0.883);">1.04000</div>
<div class="t" style="left:670.62px;top:280.75px;font-size:8.6px;color:#b2b5be;transform:scaleX(0.883);">1.03000</div>
<div class="t" style="left:670.62px;top:312.50px;font-size:8.6px;color:#b2b5be;transform:scaleX(0.883);">1.02000</div>
<div class="t" style="left:670.62px;top:344.25px;font-size:8.6px;color:#b2b5be;transform:scaleX(0.883);">1.01000</div>
<div class="t" style="left:670.62px;top:376.00px;font-size:8.6px;color:#b2b5be;transform:scaleX(0.883);">1.00000</div>
<div class="t" style="left:671.50px;top:407.75px;font-size:8.6px;color:#b2b5be;transform:scaleX(0.855);">0.99000</div>
<div class="t" style="left:671.50px;top:439.50px;font-size:8.6px;color:#b2b5be;transform:scaleX(0.855);">0.98000</div>
<div class="t" style="left:671.50px;top:471.25px;font-size:8.6px;color:#b2b5be;transform:scaleX(0.855);">0.97000</div>
<div class="t" style="left:671.50px;top:534.75px;font-size:8.6px;color:#b2b5be;transform:scaleX(0.855);">0.95000</div>
<div class="t" style="left:671.50px;top:566.50px;font-size:8.6px;color:#b2b5be;transform:scaleX(0.855);">0.94000</div>
<div class="t" style="left:6.10px;top:580.60px;font-size:8.8px;color:#b2b5be;transform:scaleX(0.818);">Jul</div>
<div class="t" style="left:86.25px;top:579.60px;font-size:8.8px;color:#b2b5be;transform:scaleX(0.833);">Aug</div>
<div class="t" style="left:175.73px;top:579.60px;font-size:8.8px;color:#b2b5be;transform:scaleX(0.871);">Sep</div>
<div class="t" style="left:262.00px;top:579.60px;font-size:8.8px;color:#b2b5be;transform:scaleX(0.857);">Oct</div>
<div class="t" style="left:343.35px;top:579.60px;font-size:8.8px;color:#b2b5be;transform:scaleX(0.900);">Nov</div>
<div class="t" style="left:428.44px;top:579.60px;font-size:8.8px;color:#b2b5be;transform:scaleX(0.907);">Dec</div>
<div class="t" style="left:512.65px;top:579.60px;font-size:8.8px;color:#b2b5be;transform:scaleX(0.921);">2023</div>
<div class="t" style="left:600.36px;top:580.60px;font-size:8.8px;color:#b2b5be;transform:scaleX(0.893);">Feb</div>
<div class="t" style="left:657.80px;top:579.60px;font-size:8.8px;color:#b2b5be;transform:scaleX(0.740);">21</div>
<div class="t" style="left:5.09px;top:1.10px;font-size:10.6px;color:#d1d4dc;transform:scaleX(1.009);">Euro / U.S. Dollar</div>
<div class="t" style="left:89.40px;top:0.70px;font-size:10.6px;color:#d1d4dc;transform:scaleX(1.700);">·</div>
<div class="t" style="left:95.85px;top:1.10px;font-size:10.6px;color:#d1d4dc;transform:scaleX(0.950);">1D</div>
<div class="t" style="left:108.90px;top:0.60px;font-size:10.6px;color:#d1d4dc;transform:scaleX(1.800);">·</div>
<div class="t" style="left:115.54px;top:1.10px;font-size:10.6px;color:#d1d4dc;transform:scaleX(0.861);">FXCM</div>
<div class="t" style="left:187.20px;top:2.10px;font-size:8.3px;color:#d1d4dc;transform:scaleX(0.783);">O</div>
<div class="t" style="left:191.90px;top:2.10px;font-size:8.3px;color:#F23645;transform:scaleX(1.003);">1.07253</div>
<div class="t" style="left:225.90px;top:2.10px;font-size:8.3px;color:#d1d4dc;transform:scaleX(1.200);">H</div>
<div class="t" style="left:231.79px;top:2.10px;font-size:8.3px;color:#F23645;transform:scaleX(1.007);">1.07665</div>
<div class="t" style="left:265.70px;top:2.10px;font-size:8.3px;color:#d1d4dc;transform:scaleX(1.100);">L</div>
<div class="t" style="left:270.90px;top:2.10px;font-size:8.3px;color:#F23645;transform:scaleX(1.003);">1.06690</div>
<div class="t" style="left:305.20px;top:2.10px;font-size:8.3px;color:#d1d4dc;transform:scaleX(0.700);">C</div>
<div class="t" style="left:309.59px;top:2.10px;font-size:8.3px;color:#F23645;transform:scaleX(1.014);">1.07052</div>
<div class="t" style="left:344.80px;top:2.40px;font-size:8.3px;color:#F23645;transform:scaleX(0.965);">−0.00201 (−0.19%)</div>
<div class="t" style="left:324.60px;top:21.00px;font-size:11.8px;color:#ececec;transform:scaleX(0.995);">www.nehcap.com</div>
<div class="t" style="left:10.39px;top:20.20px;font-size:9.8px;color:#F23645;transform:scaleX(0.810);">1.0705</div>
<div class="t" style="left:36.10px;top:19.40px;font-size:7.0px;color:#F23645;transform:scaleX(0.775);">3</div>
<div class="t" style="left:49.80px;top:20.10px;font-size:8.4px;color:#b2b5be;transform:scaleX(0.927);">0.3</div>
<div class="t" style="left:70.39px;top:20.20px;font-size:9.8px;color:#2962ff;transform:scaleX(0.807);">1.0705</div>
<div class="t" style="left:95.00px;top:19.50px;font-size:7.0px;color:#2962ff;transform:scaleX(1.025);">6</div>
<div class="t" style="left:5.80px;top:40.30px;font-size:8.9px;color:#d1d4dc;transform:scaleX(0.925);">Vol</div>
<div class="t" style="left:26.50px;top:39.30px;font-size:8.9px;color:#ef5350;transform:scaleX(0.908);">369.675K</div>
<div class="t" style="left:670.41px;top:152.80px;font-size:8.6px;color:#ffffff;transform:scaleX(0.890);">1.07052</div>
<div class="t" style="left:670.90px;top:161.30px;font-size:8.6px;color:#ffffff;transform:scaleX(0.900);">02:58:07</div>
<div class="t" style="left:671.30px;top:505.80px;font-size:8.6px;color:#ffffff;transform:scaleX(0.881);">369.675K</div>
<div class="t" style="left:26.80px;top:556.50px;font-size:8.8px;color:#f0f2f8;transform:scaleX(0.898);-webkit-text-stroke:0.5px currentColor;">TradingView</div>
</body></html>
